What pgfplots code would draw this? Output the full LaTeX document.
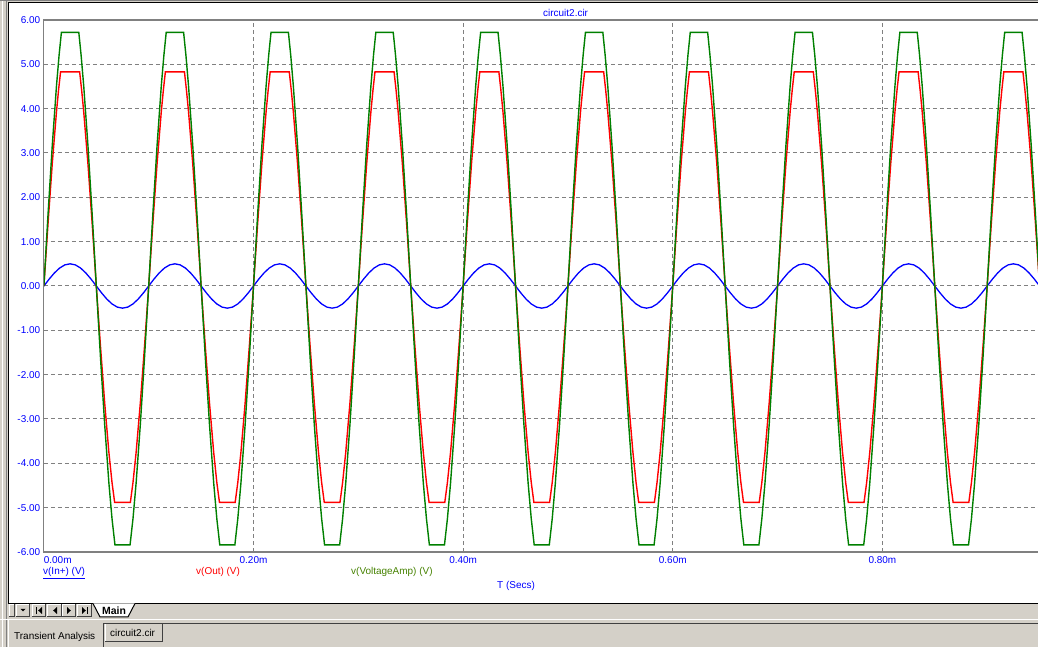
\documentclass[border=0pt]{standalone}
\usepackage{fontspec}
\setmainfont{Liberation Sans}
\usepackage{pgfplots}
\pgfplotsset{compat=1.18}
\definecolor{winbg}{RGB}{212,208,200}
\definecolor{gridgray}{RGB}{128,128,128}
\definecolor{sigblue}{RGB}{0,0,255}
\definecolor{sigred}{RGB}{255,0,0}
\definecolor{siggreen}{RGB}{0,128,0}
\definecolor{olivetext}{RGB}{70,130,0}
\definecolor{darkedge}{RGB}{64,64,64}
\definecolor{midedge}{RGB}{128,128,128}
\begin{document}
\begin{tikzpicture}[x=1bp,y=1bp]
% window background
\fill[winbg] (0,0) rectangle (1038,647);
\fill[white] (9,44) rectangle (1038,644);
\draw[white,line width=1bp] (2.5,0) -- (2.5,647);
\draw[midedge,line width=1bp] (6.5,0) -- (6.5,645.5);
\draw[black,line width=1.2bp] (8.5,43.5) -- (8.5,644.5) -- (1038,644.5);
\draw[black,line width=1.2bp] (8,43.5) -- (1038,43.5);
\draw[midedge,line width=1bp] (0,646.5) -- (1038,646.5);
\coordinate (axorigin) at (43.9,95);

\begin{axis}[at={(axorigin)}, anchor=south west, scale only axis,
  width=994.1bp, height=532bp,
  xmin=0, xmax=948.5, ymin=-6, ymax=6,
  axis line style={draw=none},
  xtick={0,200,400,600,800},
  xticklabels={\makebox[0pt][l]{0.00m},0.20m,0.40m,0.60m,0.80m},
  ytick={-6,-5,...,6},
  yticklabels={-6.00,-5.00,-4.00,-3.00,-2.00,-1.00,0.00,1.00,2.00,3.00,4.00,5.00,6.00},
  major tick length=0pt, tick style={draw=none},
  grid=major,
  major grid style={gridgray, line width=1bp, dash pattern=on 4bp off 3bp},
  tick label style={font=\fontsize{10}{12}\selectfont, text=sigblue, inner sep=0pt},
  xticklabel style={anchor=north, yshift=-4.5bp},
  yticklabel style={anchor=east, xshift=-3.5bp},
]
% v(In+)
\addplot[sigblue, line width=1.3bp] coordinates {
(0,0) (5,.155) (10,.294) (15,.405) (20,.476) (25,.5) (30,.476) (35,.405) (40,.294) (45,.155) (50,0) (55,-.155) (60,-.294) (65,-.405) (70,-.476) (75,-.5) (80,-.476) (85,-.405) (90,-.294) (95,-.155)
(100,0) (105,.155) (110,.294) (115,.405) (120,.476) (125,.5) (130,.476) (135,.405) (140,.294) (145,.155) (150,0) (155,-.155) (160,-.294) (165,-.405) (170,-.476) (175,-.5) (180,-.476) (185,-.405) (190,-.294) (195,-.155)
(200,0) (205,.155) (210,.294) (215,.405) (220,.476) (225,.5) (230,.476) (235,.405) (240,.294) (245,.155) (250,0) (255,-.155) (260,-.294) (265,-.405) (270,-.476) (275,-.5) (280,-.476) (285,-.405) (290,-.294) (295,-.155)
(300,0) (305,.155) (310,.294) (315,.405) (320,.476) (325,.5) (330,.476) (335,.405) (340,.294) (345,.155) (350,0) (355,-.155) (360,-.294) (365,-.405) (370,-.476) (375,-.5) (380,-.476) (385,-.405) (390,-.294) (395,-.155)
(400,0) (405,.155) (410,.294) (415,.405) (420,.476) (425,.5) (430,.476) (435,.405) (440,.294) (445,.155) (450,0) (455,-.155) (460,-.294) (465,-.405) (470,-.476) (475,-.5) (480,-.476) (485,-.405) (490,-.294) (495,-.155)
(500,0) (505,.155) (510,.294) (515,.405) (520,.476) (525,.5) (530,.476) (535,.405) (540,.294) (545,.155) (550,0) (555,-.155) (560,-.294) (565,-.405) (570,-.476) (575,-.5) (580,-.476) (585,-.405) (590,-.294) (595,-.155)
(600,0) (605,.155) (610,.294) (615,.405) (620,.476) (625,.5) (630,.476) (635,.405) (640,.294) (645,.155) (650,0) (655,-.155) (660,-.294) (665,-.405) (670,-.476) (675,-.5) (680,-.476) (685,-.405) (690,-.294) (695,-.155)
(700,0) (705,.155) (710,.294) (715,.405) (720,.476) (725,.5) (730,.476) (735,.405) (740,.294) (745,.155) (750,0) (755,-.155) (760,-.294) (765,-.405) (770,-.476) (775,-.5) (780,-.476) (785,-.405) (790,-.294) (795,-.155)
(800,0) (805,.155) (810,.294) (815,.405) (820,.476) (825,.5) (830,.476) (835,.405) (840,.294) (845,.155) (850,0) (855,-.155) (860,-.294) (865,-.405) (870,-.476) (875,-.5) (880,-.476) (885,-.405) (890,-.294) (895,-.155)
(900,0) (905,.155) (910,.294) (915,.405) (920,.476) (925,.5) (930,.476) (935,.405) (940,.294) (945,.155) (950,0)
};
% v(Out)
\addplot[sigred, line width=1.4bp] coordinates {
(0,0) (4,1.428) (8,2.766) (12,3.929) (14,4.423) (15.9,4.83) (34.1,4.83) (36,4.423) (38,3.929) (42,2.766) (46,1.428) (50,0) (54,-1.363) (58,-2.640) (62,-3.751) (65,-4.433) (67.5,-4.88) (82.5,-4.88) (85,-4.433) (88,-3.751) (92,-2.640) (96,-1.363)
(100,0) (104,1.428) (108,2.766) (112,3.929) (114,4.423) (115.9,4.83) (134.1,4.83) (136,4.423) (138,3.929) (142,2.766) (146,1.428) (150,0) (154,-1.363) (158,-2.640) (162,-3.751) (165,-4.433) (167.5,-4.88) (182.5,-4.88) (185,-4.433) (188,-3.751) (192,-2.640) (196,-1.363)
(200,0) (204,1.428) (208,2.766) (212,3.929) (214,4.423) (215.9,4.83) (234.1,4.83) (236,4.423) (238,3.929) (242,2.766) (246,1.428) (250,0) (254,-1.363) (258,-2.640) (262,-3.751) (265,-4.433) (267.5,-4.88) (282.5,-4.88) (285,-4.433) (288,-3.751) (292,-2.640) (296,-1.363)
(300,0) (304,1.428) (308,2.766) (312,3.929) (314,4.423) (315.9,4.83) (334.1,4.83) (336,4.423) (338,3.929) (342,2.766) (346,1.428) (350,0) (354,-1.363) (358,-2.640) (362,-3.751) (365,-4.433) (367.5,-4.88) (382.5,-4.88) (385,-4.433) (388,-3.751) (392,-2.640) (396,-1.363)
(400,0) (404,1.428) (408,2.766) (412,3.929) (414,4.423) (415.9,4.83) (434.1,4.83) (436,4.423) (438,3.929) (442,2.766) (446,1.428) (450,0) (454,-1.363) (458,-2.640) (462,-3.751) (465,-4.433) (467.5,-4.88) (482.5,-4.88) (485,-4.433) (488,-3.751) (492,-2.640) (496,-1.363)
(500,0) (504,1.428) (508,2.766) (512,3.929) (514,4.423) (515.9,4.83) (534.1,4.83) (536,4.423) (538,3.929) (542,2.766) (546,1.428) (550,0) (554,-1.363) (558,-2.640) (562,-3.751) (565,-4.433) (567.5,-4.88) (582.5,-4.88) (585,-4.433) (588,-3.751) (592,-2.640) (596,-1.363)
(600,0) (604,1.428) (608,2.766) (612,3.929) (614,4.423) (615.9,4.83) (634.1,4.83) (636,4.423) (638,3.929) (642,2.766) (646,1.428) (650,0) (654,-1.363) (658,-2.640) (662,-3.751) (665,-4.433) (667.5,-4.88) (682.5,-4.88) (685,-4.433) (688,-3.751) (692,-2.640) (696,-1.363)
(700,0) (704,1.428) (708,2.766) (712,3.929) (714,4.423) (715.9,4.83) (734.1,4.83) (736,4.423) (738,3.929) (742,2.766) (746,1.428) (750,0) (754,-1.363) (758,-2.640) (762,-3.751) (765,-4.433) (767.5,-4.88) (782.5,-4.88) (785,-4.433) (788,-3.751) (792,-2.640) (796,-1.363)
(800,0) (804,1.428) (808,2.766) (812,3.929) (814,4.423) (815.9,4.83) (834.1,4.83) (836,4.423) (838,3.929) (842,2.766) (846,1.428) (850,0) (854,-1.363) (858,-2.640) (862,-3.751) (865,-4.433) (867.5,-4.88) (882.5,-4.88) (885,-4.433) (888,-3.751) (892,-2.640) (896,-1.363)
(900,0) (904,1.428) (908,2.766) (912,3.929) (914,4.423) (915.9,4.83) (934.1,4.83) (936,4.423) (938,3.929) (942,2.766) (946,1.428) (950,0)
};
% v(VoltageAmp)
\addplot[siggreen, line width=1.4bp] coordinates {
(0,0) (4,1.639) (8,3.175) (12,4.511) (14.5,5.207) (16.7,5.72) (33.3,5.72) (35.5,5.207) (38,4.511) (42,3.175) (46,1.639) (50,0) (54,-1.614) (58,-3.127) (62,-4.442) (65,-5.250) (67.8,-5.84) (82.2,-5.84) (85,-5.250) (88,-4.442) (92,-3.127) (96,-1.614)
(100,0) (104,1.639) (108,3.175) (112,4.511) (114.5,5.207) (116.7,5.72) (133.3,5.72) (135.5,5.207) (138,4.511) (142,3.175) (146,1.639) (150,0) (154,-1.614) (158,-3.127) (162,-4.442) (165,-5.250) (167.8,-5.84) (182.2,-5.84) (185,-5.250) (188,-4.442) (192,-3.127) (196,-1.614)
(200,0) (204,1.639) (208,3.175) (212,4.511) (214.5,5.207) (216.7,5.72) (233.3,5.72) (235.5,5.207) (238,4.511) (242,3.175) (246,1.639) (250,0) (254,-1.614) (258,-3.127) (262,-4.442) (265,-5.250) (267.8,-5.84) (282.2,-5.84) (285,-5.250) (288,-4.442) (292,-3.127) (296,-1.614)
(300,0) (304,1.639) (308,3.175) (312,4.511) (314.5,5.207) (316.7,5.72) (333.3,5.72) (335.5,5.207) (338,4.511) (342,3.175) (346,1.639) (350,0) (354,-1.614) (358,-3.127) (362,-4.442) (365,-5.250) (367.8,-5.84) (382.2,-5.84) (385,-5.250) (388,-4.442) (392,-3.127) (396,-1.614)
(400,0) (404,1.639) (408,3.175) (412,4.511) (414.5,5.207) (416.7,5.72) (433.3,5.72) (435.5,5.207) (438,4.511) (442,3.175) (446,1.639) (450,0) (454,-1.614) (458,-3.127) (462,-4.442) (465,-5.250) (467.8,-5.84) (482.2,-5.84) (485,-5.250) (488,-4.442) (492,-3.127) (496,-1.614)
(500,0) (504,1.639) (508,3.175) (512,4.511) (514.5,5.207) (516.7,5.72) (533.3,5.72) (535.5,5.207) (538,4.511) (542,3.175) (546,1.639) (550,0) (554,-1.614) (558,-3.127) (562,-4.442) (565,-5.250) (567.8,-5.84) (582.2,-5.84) (585,-5.250) (588,-4.442) (592,-3.127) (596,-1.614)
(600,0) (604,1.639) (608,3.175) (612,4.511) (614.5,5.207) (616.7,5.72) (633.3,5.72) (635.5,5.207) (638,4.511) (642,3.175) (646,1.639) (650,0) (654,-1.614) (658,-3.127) (662,-4.442) (665,-5.250) (667.8,-5.84) (682.2,-5.84) (685,-5.250) (688,-4.442) (692,-3.127) (696,-1.614)
(700,0) (704,1.639) (708,3.175) (712,4.511) (714.5,5.207) (716.7,5.72) (733.3,5.72) (735.5,5.207) (738,4.511) (742,3.175) (746,1.639) (750,0) (754,-1.614) (758,-3.127) (762,-4.442) (765,-5.250) (767.8,-5.84) (782.2,-5.84) (785,-5.250) (788,-4.442) (792,-3.127) (796,-1.614)
(800,0) (804,1.639) (808,3.175) (812,4.511) (814.5,5.207) (816.7,5.72) (833.3,5.72) (835.5,5.207) (838,4.511) (842,3.175) (846,1.639) (850,0) (854,-1.614) (858,-3.127) (862,-4.442) (865,-5.250) (867.8,-5.84) (882.2,-5.84) (885,-5.250) (888,-4.442) (892,-3.127) (896,-1.614)
(900,0) (904,1.639) (908,3.175) (912,4.511) (914.5,5.207) (916.7,5.72) (933.3,5.72) (935.5,5.207) (938,4.511) (942,3.175) (946,1.639) (950,0)
};
\end{axis}
% plot frame lines
\draw[gridgray,line width=1.2bp] (1038,627) -- (43.6,627) -- (43.6,95) -- (1038,95);
% title and labels
\node[anchor=base west,inner sep=0pt,text=sigblue,font=\fontsize{10}{12}\selectfont] at (543,630) {circuit2.cir};
\node[anchor=base west,inner sep=0pt,text=sigblue,font=\fontsize{10}{12}\selectfont] at (43,72) {\underline{v(In+) (V)}};
\node[anchor=base west,inner sep=0pt,text=sigred,font=\fontsize{10}{12}\selectfont] at (196,72) {v(Out) (V)};
\node[anchor=base west,inner sep=0pt,text=olivetext,font=\fontsize{10}{12}\selectfont] at (351,72) {v(VoltageAmp) (V)};
\node[anchor=base west,inner sep=0pt,text=sigblue,font=\fontsize{10}{12}\selectfont] at (497,58) {T (Secs)};
% sheet navigation buttons
\foreach \a/\b in {9/15,16/30,32/46,47/61.5,62/76,77/92}{
  \fill[winbg] (\a,30) rectangle (\b,43);
  \draw[white,line width=1bp] (\a+0.5,30) -- (\a+0.5,42.5) -- (\b,42.5);
  \draw[darkedge,line width=1bp] (\a,30.5) -- (\b-0.5,30.5) -- (\b-0.5,43);
}
\fill[black] (20.5,38) -- (25.5,38) -- (23,35.5) -- cycle;
\fill[black] (36,40) rectangle (37.2,33);
\fill[black] (42,40) -- (42,33) -- (38.2,36.5) -- cycle;
\fill[black] (57,40) -- (57,33) -- (53.2,36.5) -- cycle;
\fill[black] (67,40) -- (67,33) -- (70.8,36.5) -- cycle;
\fill[black] (82,40) -- (82,33) -- (85.8,36.5) -- cycle;
\fill[black] (86.8,40) rectangle (88,33);
% Main tab
\fill[white] (93,43.5) -- (100,30) -- (128,30) -- (135,43.5) -- cycle;
\draw[black,line width=1bp] (93,43.5) -- (100,30) -- (128,30) -- (135,43.5);
\node[inner sep=0pt,font=\fontsize{10.5}{12}\bfseries\selectfont] at (114,36.5) {Main};
% lower tab strip
\draw[white,line width=1bp] (0,27) -- (1038,27);
\draw[darkedge,line width=1.2bp] (103,23.5) -- (1038,23.5);
\draw[white,line width=1bp] (8.5,0) -- (8.5,27);
\draw[darkedge,line width=1bp] (103,0) -- (103,23.5);
\node[anchor=base west,inner sep=0pt,font=\fontsize{10}{12}\selectfont] at (14,7) {Transient Analysis};
\fill[winbg] (105,5) rectangle (163,23);
\draw[white,line width=1bp] (105.5,5) -- (105.5,23);
\draw[darkedge,line width=1bp] (105,5.5) -- (162.5,5.5) -- (162.5,23);
\node[anchor=base west,inner sep=0pt,font=\fontsize{10}{12}\selectfont] at (110,10) {circuit2.cir};
\pgfresetboundingbox
\path (0,0) rectangle (1038,647);
\end{tikzpicture}
\end{document}
